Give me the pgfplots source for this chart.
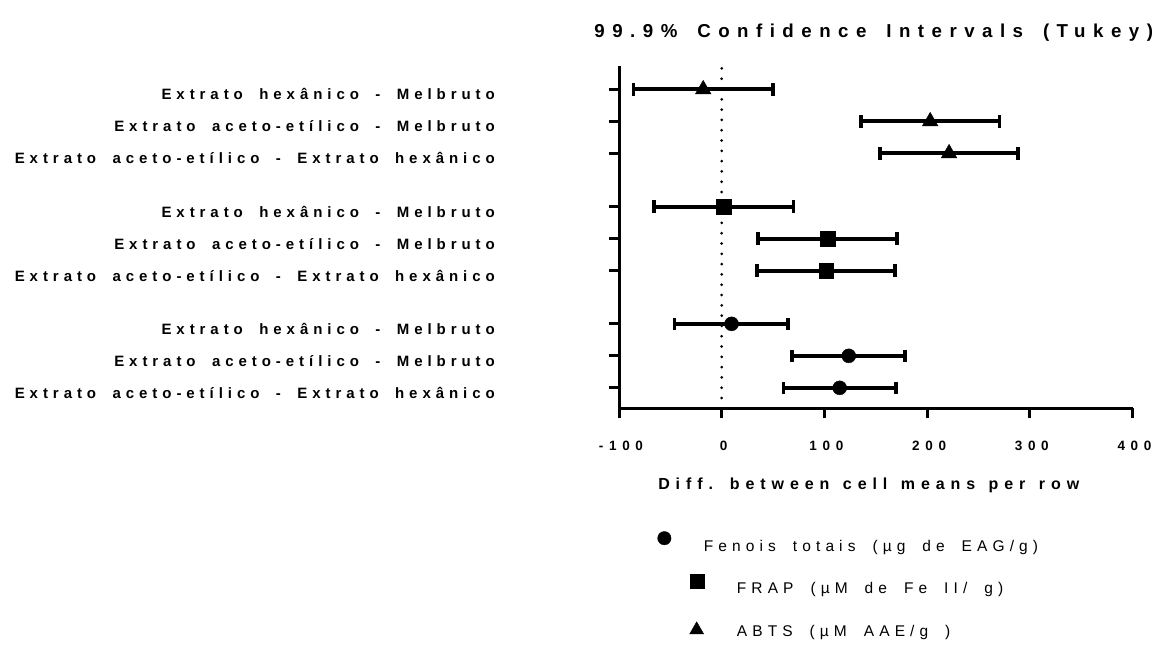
\documentclass[border=0pt]{standalone}
\usepackage{pgfplots}
\pgfplotsset{compat=1.18}
\usepackage{fontspec}
\setmainfont{Liberation Sans}
\newfontfamily\lsy[LetterSpace=33]{Liberation Sans}
\newfontfamily\lst[LetterSpace=40, WordSpace=1.57]{Liberation Sans}
\newfontfamily\lsx[LetterSpace=42]{Liberation Sans}
\newfontfamily\lsl[LetterSpace=37, WordSpace=1.3]{Liberation Sans}
\newfontfamily\lsg[LetterSpace=33, WordSpace=1.8]{Liberation Sans}
\begin{document}
\begin{tikzpicture}
\useasboundingbox (0,0) rectangle (1161pt,-651pt);
\begin{axis}[
  at={(619pt,-408.3pt)}, anchor=south west,
  scale only axis, width=513.5pt, height=342.3pt,
  xmin=-100, xmax=400, ymin=0, ymax=10.7,
  axis x line*=bottom, axis y line*=left,
  axis line style={line width=3pt},
  tick align=outside, major tick length=10pt,
  tick style={line width=3pt, black},
  xtick={-100,0,100,200,300,400},
  xticklabels={-100,0,100,200,300,400},
  ytick={0.64,1.64,2.64,4.30,5.30,6.30,7.97,8.97,9.97},
  yticklabels={
    Extrato aceto-etílico - Extrato hexânico,
    Extrato aceto-etílico - Melbruto,
    Extrato hexânico - Melbruto,
    Extrato aceto-etílico - Extrato hexânico,
    Extrato aceto-etílico - Melbruto,
    Extrato hexânico - Melbruto,
    Extrato aceto-etílico - Extrato hexânico,
    Extrato aceto-etílico - Melbruto,
    Extrato hexânico - Melbruto},
  xticklabel style={font=\lsx\bfseries\fontsize{13.5}{13.5}\selectfont, anchor=center, yshift=-28pt, xshift=2pt},
  yticklabel style={font=\lsy\bfseries\fontsize{15}{15}\selectfont, anchor=east, inner sep=0pt, xshift=-114pt, yshift=-5pt},
  title={99.9\% Confidence Intervals (Tukey)},
  title style={font=\lst\bfseries\fontsize{18.7}{18.7}\selectfont, at={(axis description cs:0.5,1)}, anchor=center, yshift=27pt, xshift=-2pt},
  xlabel={Diff. between cell means per row},
  xlabel style={font=\lsl\bfseries\fontsize{16}{16}\selectfont, at={(axis description cs:0.5,0)}, anchor=center, yshift=-77pt, xshift=-7pt},
  clip=false,
  legend style={at={(axis description cs:0.2245,-0.386)}, anchor=north west, draw=none, fill=none,
    font=\lsg\fontsize{15.5}{15.5}\selectfont, row sep=29pt, inner sep=0pt,
    nodes={inner sep=0pt, text height=10.5pt, text depth=3pt, anchor=west}},
  legend cell align=left,
]
% dotted zero line
\addplot[forget plot, black, line width=3pt, line cap=round, dash pattern=on 0pt off 10.3pt]
  coordinates {(0,0) (0,10.7)};
% Fenois totais (circles)
\addplot[forget plot, black, only marks, mark=*, mark size=7pt,
  error bars/.cd, x dir=both, x explicit,
  error bar style={line width=4pt, black},
  error mark options={line width=3.5pt, mark size=6.3pt, rotate=90}]
  table[x=x, y=y, x error plus=ep, x error minus=em] {
x y ep em
9.6 2.64 55.1 55.5
123.7 1.64 54.9 55.1
114.9 0.64 54.6 54.8
};
% FRAP (squares)
\addplot[forget plot, black, only marks, mark=square*, mark size=7.4pt,
  error bars/.cd, x dir=both, x explicit,
  error bar style={line width=4pt, black},
  error mark options={line width=3.5pt, mark size=6.3pt, rotate=90}]
  table[x=x, y=y, x error plus=ep, x error minus=em] {
x y ep em
2.3 6.30 67.6 68.0
103.2 5.30 67.6 67.7
101.7 4.30 67.1 67.2
};
% ABTS (triangles)
\addplot[forget plot, black, only marks, mark=triangle*, mark size=9pt,
  error bars/.cd, x dir=both, x explicit,
  error bar style={line width=4pt, black},
  error mark options={line width=3.5pt, mark size=6.3pt, rotate=90}]
  table[x=x, y=y, x error plus=ep, x error minus=em] {
x y ep em
-18.0 9.97 67.8 67.8
203.0 8.97 67.5 67.2
221.4 7.97 67.2 67.4
};
\addlegendimage{legend image code/.code={\path (0pt,0pt) (2pt,0pt); \fill[overlay] (-70.3pt,9.2pt) circle (6.7pt);}}
\addlegendentry{\hspace*{-33pt}Fenois totais (µg de EAG/g)}
\addlegendimage{legend image code/.code={\path (0pt,0pt) (2pt,0pt); \fill[overlay] (-44pt,1.6pt) rectangle (-30pt,15.6pt);}}
\addlegendentry{FRAP (µM de Fe II/ g)}
\addlegendimage{legend image code/.code={\path (0pt,0pt) (2pt,0pt); \fill[overlay] (-38pt,2.5pt) +(90:8.1pt) -- +(210:8.1pt) -- +(330:8.1pt) -- cycle;}}
\addlegendentry{ABTS (µM AAE/g )}
\end{axis}
\end{tikzpicture}
\end{document}
